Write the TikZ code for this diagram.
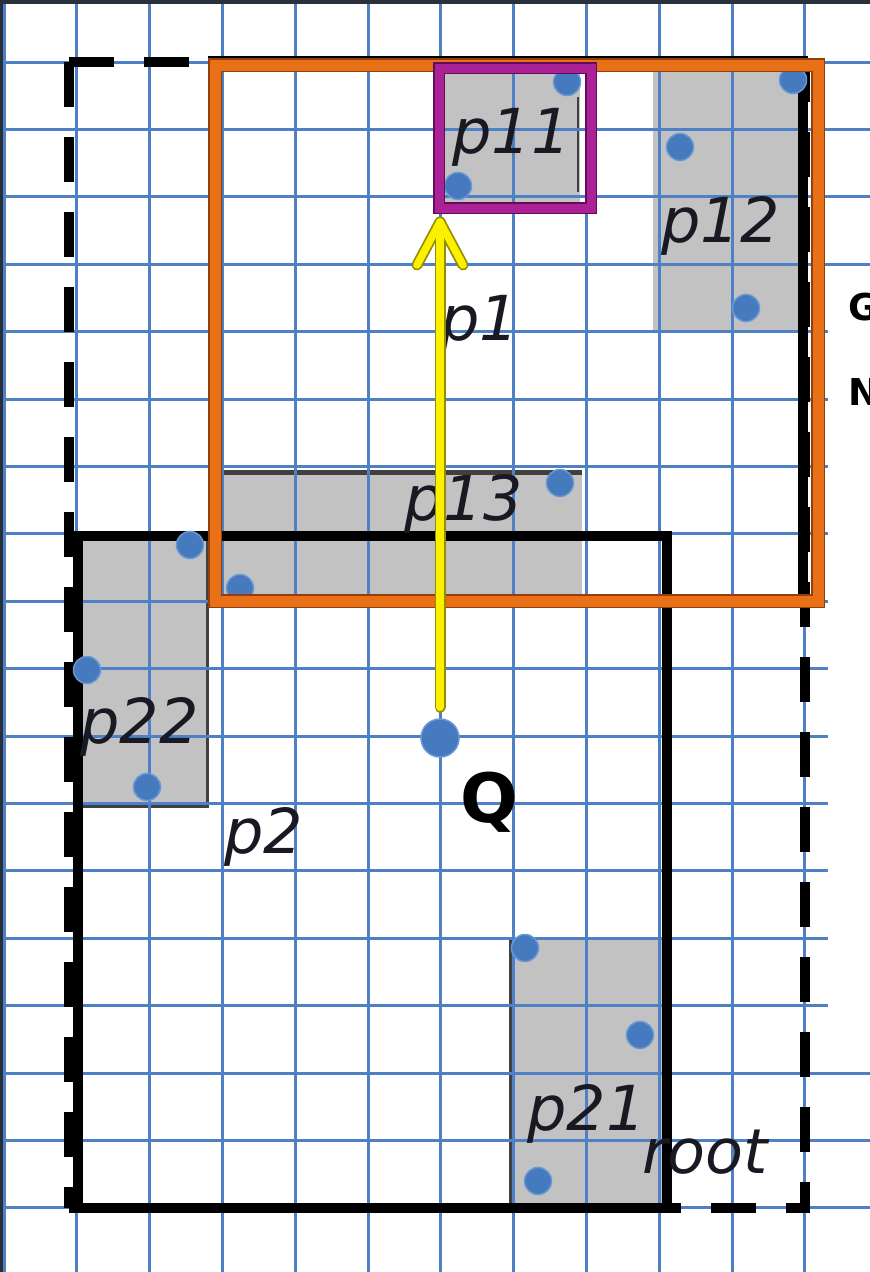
\documentclass[tikz,border=0pt]{standalone}
\usepackage{fontspec}
\setmainfont{DejaVu Sans}
\usetikzlibrary{fit}
\definecolor{gridblue}{RGB}{78,128,198}
\definecolor{ptblue}{RGB}{70,122,190}
\definecolor{ptedge}{RGB}{105,152,212}
\definecolor{grayfill}{RGB}{194,194,194}
\definecolor{orangeC}{RGB}{232,112,22}
\definecolor{orangeD}{RGB}{150,62,10}
\definecolor{purpleC}{RGB}{170,34,150}
\definecolor{purpleD}{RGB}{100,10,90}
\definecolor{yellowC}{RGB}{250,240,0}
\definecolor{yellowD}{RGB}{150,140,0}
\definecolor{framedark}{RGB}{42,48,58}
\definecolor{lblcol}{RGB}{25,25,35}
\tikzset{
  gridline/.style={draw=gridblue, line width=3pt},
  graybox/.style={inner sep=0pt, outer sep=0pt, fill=grayfill},
  blackbox/.style={inner sep=0pt, outer sep=0pt, draw=black, line width=9.5pt},
  rootbox/.style={draw=black, line width=10pt, dash pattern=on 45pt off 30pt},
  hlorange/.style={inner sep=0pt, outer sep=0pt, draw=orangeC, line width=11pt},
  hlorangeD/.style={draw=orangeD, line width=14pt},
  hlpurple/.style={inner sep=0pt, outer sep=0pt, draw=purpleC, line width=9pt},
  hlpurpleD/.style={draw=purpleD, line width=12pt},
  pt/.style={circle, fill=ptblue, draw=ptedge, line width=1.5pt, minimum size=27pt, inner sep=0pt},
  qpt/.style={circle, fill=ptblue, draw=ptedge, line width=1.5pt, minimum size=38pt, inner sep=0pt},
  lbl/.style={anchor=base west, inner sep=0pt, text=lblcol, font=\fontsize{62}{62}\selectfont\itshape},
  side/.style={anchor=base west, inner sep=0pt, text=black, font=\fontsize{37}{37}\selectfont\bfseries},
  thinedge/.style={draw=black!75, line width=3pt},
  yunder/.style={draw=yellowD, line width=11pt, line cap=round, line join=round},
  yover/.style={draw=yellowC, line width=7.5pt, line cap=round, line join=round}
}
\begin{document}
\begin{tikzpicture}[x=1pt, y=-1pt]
\useasboundingbox (0,0) rectangle (870,1272);
\clip (0,0) rectangle (870,1272);
\fill[white] (0,0) rectangle (870,1272);

% gray region fills
\node[graybox, fit={(445,72) (580,202)}] (p11g) {};
\node[graybox, fit={(653,72) (800,332)}] (p12g) {};
\node[graybox, fit={(222,472) (582,598)}] (p13g) {};
\node[graybox, fit={(79,540) (207,806)}] (p22g) {};
\node[graybox, fit={(510,938) (662,1208)}] (p21g) {};
\draw[thinedge, line width=2.5pt] (578,97) -- (578,192);
\draw[thinedge, line width=2pt] (p12g.south west) -- (p12g.south east);
\draw[thinedge, line width=5pt] (p13g.north west) -- (p13g.north east);
\draw[thinedge] (p22g.north east) -- (p22g.south east) -- (p22g.south west);
\draw[thinedge] (p21g.north west) -- (p21g.south west);

% grid
\foreach \k in {0,...,11}
  \draw[gridline] ({4+72.8*\k},0) -- ({4+72.8*\k},1272);
\foreach \k in {0,...,18}
  \draw[gridline] (0,{62+67.4*\k}) -- (870,{62+67.4*\k});
\fill[white] (828,275) rectangle (870,1040);
\fill[framedark] (0,0) rectangle (870,4);
\fill[framedark] (0,0) rectangle (2.5,1272);

% tree boxes
\node[blackbox, fit={(213,61) (803,600)}] (p1) {};
\node[blackbox, fit={(78,536) (667,1208)}] (p2) {};
\draw[rootbox] (69,62) -- (805,62);
\draw[rootbox] (69,62) -- (69,1208);
\draw[rootbox, dash phase=5pt] (805,62) -- (805,1208) -- (69,1208);

% labels
\node[lbl] (lp11) at (452,153) {p11};
\node[lbl] (lp12) at (661,242) {p12};
\node[lbl] (lp1) at (440,340) {p1};
\node[lbl] (lp13) at (404,520) {p13};
\node[lbl] (lp22) at (80,743) {p22};
\node[lbl] (lp2) at (224,853) {p2};
\node[lbl] (lp21) at (527,1130) {p21};
\node[lbl] (lroot) at (642,1173) {root};
\node[side] (lg) at (848,320) {G};
\node[side] (ln) at (848,405) {N};

% data points
\node[pt] (a1) at (567,82) {};
\node[pt] (a2) at (458,186) {};
\node[pt] (b1) at (680,147) {};
\node[pt] (b2) at (793,80) {};
\node[pt] (b3) at (746,308) {};
\node[pt] (c1) at (560,483) {};
\node[pt] (c2) at (240,588) {};
\node[pt] (d1) at (190,545) {};
\node[pt] (d2) at (87,670) {};
\node[pt] (d3) at (147,787) {};
\node[pt] (e1) at (525,948) {};
\node[pt] (e2) at (640,1035) {};
\node[pt] (e3) at (538,1181) {};

% highlight boxes
\draw[hlorangeD] (215,65) rectangle (818,601);
\node[hlorange, fit={(215,65) (818,601)}] (p1hl) {};
\draw[hlpurpleD] (439,68) rectangle (591,208);
\node[hlpurple, fit={(439,68) (591,208)}] (p11box) {};

% query point and arrow
\node[qpt] (Q) at (440,738) {};
\node[anchor=base west, inner sep=0pt, font=\fontsize{68}{68}\selectfont\bfseries] (lq) at (460,822) {Q};
\coordinate (qtop) at ([yshift=11pt]Q.north);
\coordinate (tip) at ([yshift=-14pt]Q.center |- p11box.south);
\draw[yunder] (qtop) -- (tip);
\draw[yunder] ([shift={(-23pt,-43pt)}]tip) -- (tip) -- ([shift={(23pt,-43pt)}]tip);
\draw[yover] (qtop) -- (tip);
\draw[yover] ([shift={(-23pt,-43pt)}]tip) -- (tip) -- ([shift={(23pt,-43pt)}]tip);
\end{tikzpicture}
\end{document}
